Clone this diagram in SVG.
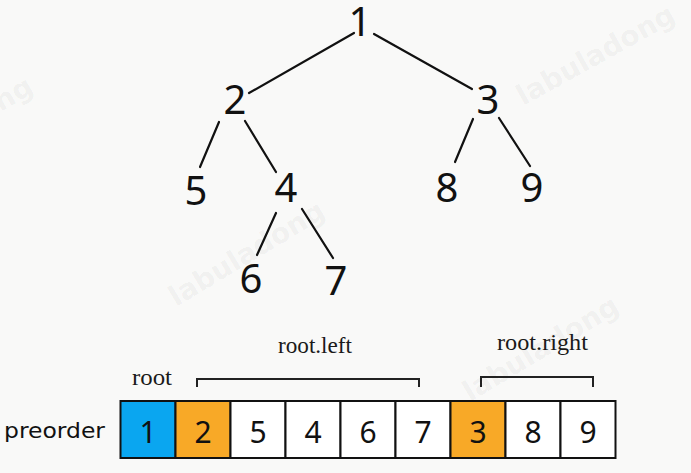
<svg xmlns="http://www.w3.org/2000/svg" width="691" height="473" viewBox="0 0 691 473">
  <defs>
    <style>
      .node { font-family: "Noto Sans", "Open Sans", sans-serif; font-size: 40px; fill: #111; text-anchor: middle; }
      .edge { stroke: #111; stroke-width: 2.2; stroke-linecap: round; fill: none; }
      .cell { stroke: #111; stroke-width: 2; }
      .cell-num { font-family: "Noto Sans", "Open Sans", sans-serif; font-size: 30px; fill: #111; text-anchor: middle; }
      .label { font-family: "Liberation Serif", "Times New Roman", serif; font-size: 24px; fill: #1a1a1a; }
      .bracket { stroke: #222; stroke-width: 2; fill: none; }
      .wm { font-family: "DejaVu Sans", sans-serif; font-weight: bold; font-size: 28px; fill: #000; fill-opacity: 0.05; }
    </style>
  </defs>

  <rect x="0" y="0" width="691" height="473" fill="#f9f9f8"/>

  <!-- watermark -->
  <g id="watermarks">
    <text class="wm" x="35" y="92" text-anchor="end" transform="rotate(-30 35 92)">labuladong</text>
    <text class="wm" x="523" y="106" transform="rotate(-29 523 106)">labuladong</text>
    <text class="wm" x="176" y="307" transform="rotate(-31 176 307)">labuladong</text>
    <text class="wm" x="470" y="402" transform="rotate(-31 470 402)">labuladong</text>
  </g>

  <!-- tree edges -->
  <g id="edges">
    <line class="edge" x1="354" y1="33" x2="249" y2="93"/>
    <line class="edge" x1="374" y1="34" x2="472" y2="89"/>
    <line class="edge" x1="219" y1="122" x2="200" y2="167"/>
    <line class="edge" x1="245" y1="121" x2="276" y2="172"/>
    <line class="edge" x1="473" y1="119" x2="455" y2="162"/>
    <line class="edge" x1="499" y1="118" x2="530" y2="166"/>
    <line class="edge" x1="276" y1="213" x2="257" y2="255"/>
    <line class="edge" x1="302" y1="209" x2="333" y2="258"/>
  </g>

  <!-- tree nodes -->
  <g id="node-1"><text class="node" x="360" y="36">1</text></g>
  <g id="node-2"><text class="node" x="235" y="114">2</text></g>
  <g id="node-3"><text class="node" x="488" y="114">3</text></g>
  <g id="node-5"><text class="node" x="196" y="205">5</text></g>
  <g id="node-4"><text class="node" x="286" y="202">4</text></g>
  <g id="node-8"><text class="node" x="447" y="202">8</text></g>
  <g id="node-9"><text class="node" x="532" y="202">9</text></g>
  <g id="node-6"><text class="node" x="251" y="293">6</text></g>
  <g id="node-7"><text class="node" x="336" y="295">7</text></g>

  <!-- preorder array -->
  <g id="preorder">
    <text x="4" y="438" font-family="DejaVu Sans, sans-serif" font-size="22" fill="#111" textLength="101" lengthAdjust="spacingAndGlyphs">preorder</text>
    <rect class="cell" x="120.5" y="401" width="55" height="57" fill="#0aa6f0"/>
    <rect class="cell" x="175.5" y="401" width="55" height="57" fill="#f8a927"/>
    <rect class="cell" x="230.5" y="401" width="55" height="57" fill="#ffffff"/>
    <rect class="cell" x="285.5" y="401" width="55" height="57" fill="#ffffff"/>
    <rect class="cell" x="340.5" y="401" width="55" height="57" fill="#ffffff"/>
    <rect class="cell" x="395.5" y="401" width="55" height="57" fill="#ffffff"/>
    <rect class="cell" x="450.5" y="401" width="55" height="57" fill="#f8a927"/>
    <rect class="cell" x="505.5" y="401" width="55" height="57" fill="#ffffff"/>
    <rect class="cell" x="560.5" y="401" width="55" height="57" fill="#ffffff"/>
    <text class="cell-num" x="148" y="443">1</text>
    <text class="cell-num" x="203" y="443">2</text>
    <text class="cell-num" x="258" y="443">5</text>
    <text class="cell-num" x="313" y="443">4</text>
    <text class="cell-num" x="368" y="443">6</text>
    <text class="cell-num" x="423" y="443">7</text>
    <text class="cell-num" x="478" y="443">3</text>
    <text class="cell-num" x="533" y="443">8</text>
    <text class="cell-num" x="588" y="443">9</text>
  </g>

  <!-- range labels -->
  <g id="label-root">
    <text class="label" x="132" y="385" textLength="40" lengthAdjust="spacingAndGlyphs">root</text>
  </g>
  <g id="label-root-left">
    <text class="label" x="278" y="353" textLength="74" lengthAdjust="spacingAndGlyphs">root.left</text>
    <polyline class="bracket" points="197,387 197,379 419,379 419,387"/>
  </g>
  <g id="label-root-right">
    <text class="label" x="497" y="350" textLength="91" lengthAdjust="spacingAndGlyphs">root.right</text>
    <polyline class="bracket" points="481,387 481,377 593,377 593,387"/>
  </g>
</svg>
